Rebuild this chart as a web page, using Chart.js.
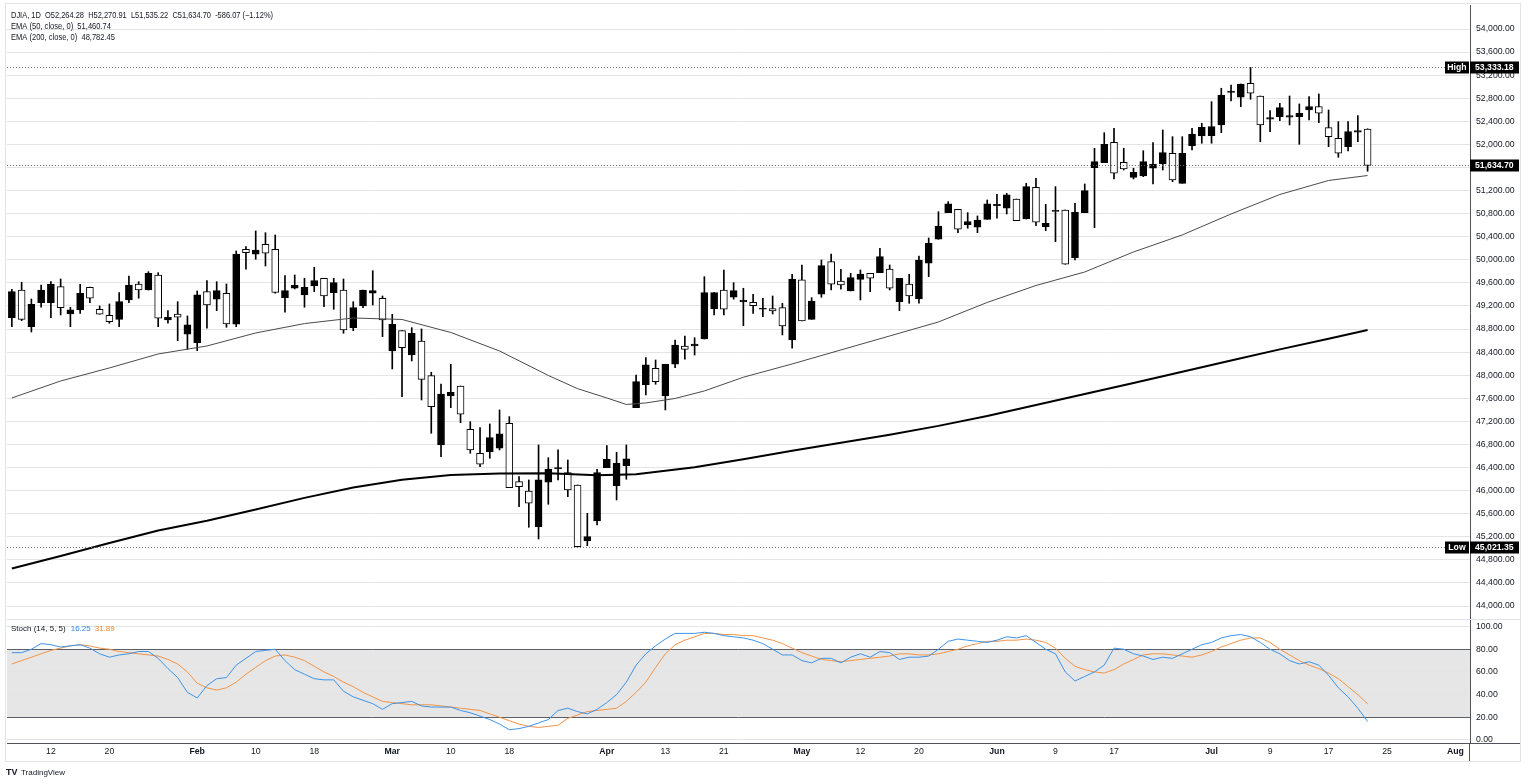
<!DOCTYPE html>
<html>
<head>
<meta charset="utf-8">
<title>DJIA 1D</title>
<script src="https://cdn.jsdelivr.net/npm/chart.js@4.4.1/dist/chart.umd.min.js"></script>
<style>
  html, body { margin: 0; padding: 0; background: #fff; }
  #wrap { position: relative; width: 1528px; height: 784px; }
</style>
</head>
<body>
<div id="wrap"><canvas id="djia" width="1528" height="784"></canvas></div>
<script>
// daily candles (oldest first)
const opens = [
  48997, 49477, 48841, 49257, 49257, 49534, 49061, 49131, 49524, 49143,
  49039, 48969, 49304, 49581, 49477, 49737, 48958, 49061, 48710, 48564,
  49448, 49317, 49420, 48883, 50183, 50096, 50269, 50183, 49344, 49507,
  49391, 49547, 49680, 49431, 49477, 48824, 49200, 49420, 49334, 48420,
  48774, 48351, 48593, 47992, 46791, 47640, 47813, 47063, 46647, 46675,
  46734, 47167, 46155, 45994, 45376, 46145, 46375, 46311, 46098, 45127,
  45474, 46398, 46086, 46433, 47437, 47831, 48120, 47640, 48190, 48507,
  48507, 48628, 49148, 49477, 49351, 49269, 49264, 49143, 49153, 49171,
  48611, 49651, 48969, 49403, 49968, 49633, 49460, 49662, 49766, 49777,
  49841, 49274, 49581, 49321, 49940, 50356, 50817, 50876, 50604, 50564,
  50702, 50938, 50893, 51054, 50708, 51257, 50574, 50840, 50864, 50037,
  50817, 51597, 51683, 52037, 51690, 51430, 51453, 51586, 51661, 51846,
  51326, 51978, 52146, 52151, 52337, 52903, 52817, 53059, 52839, 52436,
  52481, 52470, 52481, 52597, 52654, 52290, 52106, 51961, 52210, 52264.28
];
const highs = [
  49489, 49611, 49321, 49564, 49621, 49668, 49178, 49576, 49529, 49200,
  49235, 49431, 49720, 49621, 49794, 49777, 49119, 49274, 49027, 49460,
  49639, 49621, 49581, 50153, 50228, 50500, 50470, 50431, 49725, 49737,
  49680, 49871, 49680, 49680, 49668, 49274, 49477, 49811, 49373, 49056,
  48774, 48824, 48802, 48051, 47848, 48190, 47813, 47195, 47091, 47155,
  47398, 47282, 46242, 46185, 46791, 46571, 46705, 46531, 46098, 45607,
  46370, 46779, 46665, 46791, 48004, 48305, 48264, 48190, 48611, 48680,
  48651, 49708, 49431, 49824, 49604, 49507, 49403, 49334, 49373, 49247,
  49749, 49910, 49344, 49997, 50101, 49836, 49766, 49824, 49766, 50200,
  49910, 49680, 49749, 50066, 50378, 50834, 51008, 50876, 50817, 50760,
  51037, 51136, 51153, 51054, 51326, 51413, 50962, 51268, 50864, 50980,
  51314, 51933, 52203, 52280, 51933, 51586, 51891, 52030, 52250, 52134,
  52134, 52280, 52366, 52741, 52973, 53030, 53047, 53333.18, 52839, 52585,
  52713, 52839, 52701, 52827, 52874, 52597, 52394, 52394, 52498, 52270.91
];
const lows = [
  48841, 48945, 48749, 49178, 48997, 49044, 48841, 49073, 49257, 49056,
  48900, 48841, 49257, 49334, 49477, 48841, 48900, 48599, 48450, 48425,
  48814, 49119, 48831, 48841, 49836, 50009, 49893, 49420, 49091, 49495,
  49178, 49448, 49188, 49143, 48727, 48772, 49171, 49217, 48668, 48108,
  47629, 48247, 47571, 46994, 46588, 47437, 47177, 46647, 46415, 46560,
  46705, 46051, 45722, 45365, 45162, 45763, 46185, 45895, 45021.35, 45046,
  45405, 46398, 45838, 46197, 47437, 47657, 47843, 47398, 48131, 48276,
  48351, 48628, 49044, 49044, 49317, 48859, 49073, 49015, 49061, 48698,
  48467, 48940, 48969, 49351, 49477, 49489, 49460, 49304, 49448, 49777,
  49477, 49119, 49247, 49247, 49708, 50356, 50817, 50470, 50547, 50470,
  50702, 50720, 50794, 50678, 50708, 50592, 50505, 50314, 49923, 49997,
  50817, 50557, 51683, 51401, 51557, 51401, 51441, 51314, 51557, 51354,
  51326, 51904, 52020, 52020, 52203, 52753, 52654, 52782, 52047, 52221,
  52411, 52337, 52002, 52423, 52377, 51961, 51777, 51886, 52047, 51535.22
];
const closes = [
  49448, 48969, 49230, 49477, 49576, 49171, 49131, 49420, 49334, 49056,
  48928, 49274, 49564, 49477, 49766, 48987, 49004, 49004, 48871, 49391,
  49217, 49465, 48888, 50101, 50124, 50170, 50113, 49437, 49465, 49559,
  49524, 49639, 49373, 49604, 48784, 49171, 49477, 49465, 48958, 48883,
  48477, 48727, 47929, 47455, 47675, 47704, 47323, 46705, 46457, 46918,
  46982, 46051, 46069, 45781, 46185, 46375, 46398, 46011, 45028, 45202,
  46311, 46543, 46474, 46549, 47888, 48178, 47888, 48190, 48524, 48449,
  48541, 49431, 49431, 49143, 49465, 49304, 49205, 49165, 49113, 48853,
  49668, 48940, 49286, 49898, 49576, 49564, 49690, 49754, 49680, 50054,
  49507, 49680, 49373, 49997, 50287, 50586, 50968, 50529, 50661, 50690,
  50968, 50962, 51124, 50678, 51267, 50651, 50633, 50855, 49923, 50824,
  51198, 51701, 52002, 51500, 51574, 51517, 51701, 51656, 51857, 51384,
  51846, 52181, 52297, 52307, 52857, 52926, 53047, 52886, 52337, 52463,
  52637, 52498, 52540, 52654, 52540, 52134, 51846, 52221, 52238, 51634.70
];

// moving averages, sampled along the drawn lines (bar index -> value)
const ema50Idx = [0, 5, 10, 15, 20, 25, 30, 35, 40, 45, 50, 55, 58, 61, 63, 65, 68, 71, 75, 80, 85, 90, 95, 100, 105, 110, 115, 120, 125, 130, 135, 139];
const ema50 = [47606, 47900, 48126, 48368, 48507, 48732, 48895, 48992, 48966, 48741, 48420, 47996, 47767, 47606, 47493, 47519, 47597, 47727, 47965, 48195, 48438, 48680, 48923, 49261, 49555, 49789, 50136, 50431, 50794, 51132, 51375, 51460.74];
const ema200Idx = [0, 5, 10, 15, 20, 25, 30, 35, 40, 45, 50, 55, 60, 64, 70, 75, 80, 85, 90, 95, 100, 105, 110, 115, 120, 125, 130, 135, 139];
const ema200 = [44651, 44868, 45093, 45309, 45479, 45673, 45874, 46053, 46188, 46271, 46297, 46301, 46268, 46285, 46405, 46545, 46691, 46831, 46970, 47122, 47294, 47483, 47675, 47866, 48061, 48255, 48448, 48633, 48782.45];

// stochastic (14, 5, 5)
const stochK = [
  77, 77, 80, 85, 84, 82, 83, 84, 81, 76, 73, 75, 76, 78, 78, 72, 63, 55, 42, 37,
  48, 54, 55, 66, 72, 78, 79, 80, 70, 62, 58, 54, 53, 53, 43, 38, 35, 32, 27, 32,
  33, 34, 30, 29, 29, 29, 26, 24, 21, 18, 14, 9, 10, 12, 15, 18, 26, 28, 25, 23,
  27, 33, 40, 51, 66, 76, 83, 89, 94, 94, 94, 95, 94, 92, 91, 90, 88, 85, 80, 75,
  75, 70, 68, 72, 72, 68, 73, 76, 73, 78, 77, 71, 73, 73, 74, 80, 87, 89, 88, 87,
  86, 88, 91, 90, 92, 86, 80, 76, 60, 52, 56, 60, 66, 81, 80, 76, 74, 71, 73, 72,
  76, 80, 84, 86, 90, 92, 93, 91, 86, 80, 76, 70, 67, 69, 66, 57, 46, 38, 28, 16.25
];
const stochD = [
  67, 70, 73, 76, 79, 81, 83, 84, 83, 81, 80, 78, 77, 76, 75, 74, 71, 67, 60, 50,
  46, 44, 46, 51, 58, 64, 70, 74, 75, 73, 70, 65, 60, 56, 51, 47, 42, 38, 34, 33,
  32, 31, 31, 31, 30, 29, 28, 27, 26, 23, 20, 17, 14, 12, 11, 12, 13, 19, 22, 25,
  26, 27, 28, 34, 42, 51, 64, 76, 84, 88, 91, 94, 94, 93, 93, 92, 92, 90, 88, 85,
  81, 77, 74, 71, 70, 69, 70, 71, 72, 73, 74, 76, 76, 75, 75, 76, 78, 80, 83, 85,
  87, 87, 88, 88, 89, 88, 86, 81, 72, 65, 62, 60, 59, 62, 67, 71, 75, 76, 76, 75,
  74, 73, 75, 78, 82, 85, 88, 90, 90, 86, 80, 75, 70, 66, 63, 59, 54, 47, 40, 31.89
];

// axis ticks
const tickIdx = [4, 10, 19, 25, 31, 39, 45, 51, 61, 67, 73, 81, 87, 93, 101, 107, 113, 123, 129, 135, 141, 148];
const tickText = ['12', '20', 'Feb', '10', '18', 'Mar', '10', '18', 'Apr', '13', '21', 'May', '12', '20', 'Jun', '9', '17', 'Jul', '9', '17', '25', 'Aug'];
const monthNames = ['Feb', 'Mar', 'Apr', 'May', 'Jun', 'Jul', 'Aug'];
const priceTicks = [44000, 44400, 44800, 45200, 45600, 46000, 46400, 46800, 47200, 47600, 48000, 48400, 48800,
  49200, 49600, 50000, 50400, 50800, 51200, 51600, 52000, 52400, 52800, 53200, 53600, 54000];
const stochTicks = [0, 20, 40, 60, 80, 100];

const slotCount = 150;
const FONT = "'Liberation Sans', Arial, sans-serif";
const INK = '#131722';

const labels = Array.from({ length: slotCount }, (_, i) => String(i));
const tickMap = {};
tickIdx.forEach((k, j) => { tickMap[k] = tickText[j]; });

function padded(arr) {
  const out = new Array(slotCount).fill(null);
  arr.forEach((v, i) => { out[i] = v; });
  return out;
}
function sparse(idx, vals) {
  const out = new Array(slotCount).fill(null);
  idx.forEach((k, j) => { out[k] = vals[j]; });
  return out;
}
const fmt = v => v.toLocaleString('en-US', { minimumFractionDigits: 2, maximumFractionDigits: 2 });

const bodies = padded(opens.map((o, i) => [o, closes[i]]));
const wicks = padded(lows.map((l, i) => [l, highs[i]]));
const bodyFill = opens.map((o, i) => (closes[i] >= o ? '#000000' : '#ffffff'));

const hiVal = Math.max(...highs);
const loVal = Math.min(...lows);
const lastVal = closes[closes.length - 1];

// fixed right axis: no extra padding from tick labels
function fixedAxis(s) {
  s.width = 58;
  s.paddingTop = 0;
  s.paddingBottom = 0;
}

const paneDeco = {
  id: 'paneDeco',
  beforeDraw(chart) {
    const { ctx, chartArea: a, scales } = chart;
    ctx.save();
    ctx.fillStyle = '#ffffff';
    ctx.fillRect(0, 0, chart.width, chart.height);
    const s = scales.stoch;
    const y80 = s.getPixelForValue(80);
    const y20 = s.getPixelForValue(20);
    ctx.fillStyle = '#e6e6e6';
    ctx.fillRect(a.left, y80, a.right - a.left, y20 - y80);
    ctx.restore();
  },
  afterDraw(chart) {
    const { ctx, chartArea: a, scales } = chart;
    const py = scales.y;
    ctx.save();

    // pane separator + axis line extensions
    ctx.strokeStyle = '#e0e3eb';
    ctx.lineWidth = 1;
    ctx.beginPath();
    ctx.moveTo(a.left, Math.round(py.bottom) + 0.5);
    ctx.lineTo(1520, Math.round(py.bottom) + 0.5);
    ctx.stroke();
    ctx.strokeStyle = '#50535e';
    ctx.beginPath();
    ctx.moveTo(a.right, Math.round(a.bottom) + 0.5);
    ctx.lineTo(1520, Math.round(a.bottom) + 0.5);
    ctx.moveTo(Math.round(a.right) - 0.5, a.bottom);
    ctx.lineTo(Math.round(a.right) - 0.5, 761);
    ctx.stroke();

    // outer frame
    ctx.strokeStyle = '#e3e3e3';
    ctx.strokeRect(5.5, 3.5, 1515, 758);

    // dotted price lines with tags
    const marks = [
      { v: hiVal, tag: 'High' },
      { v: lastVal, tag: null },
      { v: loVal, tag: 'Low' }
    ];
    ctx.font = 'bold 8.7px ' + FONT;
    ctx.textBaseline = 'middle';
    marks.forEach(m => {
      const y = Math.round(py.getPixelForValue(m.v)) + 0.5;
      const lineEnd = m.tag ? 1445 : a.right;
      ctx.setLineDash([1, 2]);
      ctx.strokeStyle = '#6a6d78';
      ctx.beginPath();
      ctx.moveTo(a.left, y);
      ctx.lineTo(lineEnd, y);
      ctx.stroke();
      ctx.setLineDash([]);
      ctx.fillStyle = '#000000';
      ctx.fillRect(a.right, y - 6, 49, 12);
      ctx.fillStyle = '#ffffff';
      ctx.textAlign = 'left';
      ctx.fillText(fmt(m.v), a.right + 5, y + 0.5);
      if (m.tag) {
        ctx.fillStyle = '#000000';
        ctx.fillRect(1445, y - 6, 24, 12);
        ctx.fillStyle = '#ffffff';
        ctx.textAlign = 'center';
        ctx.fillText(m.tag, 1457, y + 0.5);
      }
    });

    // legend text, top left
    ctx.textAlign = 'left';
    ctx.textBaseline = 'middle';
    ctx.fillStyle = INK;
    ctx.font = '8.7px ' + FONT;
    ctx.fillText('DJIA, 1D  O52,264.28  H52,270.91  L51,535.22  C51,634.70  -586.07 (\u22121.12%)', 11, 15.5, 262);
    ctx.fillText('EMA (50, close, 0)  ' + fmt(ema50[ema50.length - 1]), 11, 26.5, 100);
    ctx.fillText('EMA (200, close, 0)  ' + fmt(ema200[ema200.length - 1]), 11, 37.5, 104);

    // stoch legend
    const sy = 629;
    let x = 11;
    const part1 = 'Stoch (14, 5, 5)';
    ctx.font = '8px ' + FONT;
    ctx.fillText(part1, x, sy);
    x += ctx.measureText(part1).width + 5;
    ctx.fillStyle = '#2d8be6';
    const kTxt = stochK[stochK.length - 1].toFixed(2);
    ctx.fillText(kTxt, x, sy);
    x += ctx.measureText(kTxt).width + 4;
    ctx.fillStyle = '#f0862a';
    ctx.fillText(stochD[stochD.length - 1].toFixed(2), x, sy);

    // footer mark
    ctx.fillStyle = INK;
    ctx.font = 'bold 9px ' + FONT;
    ctx.fillText('TV', 6, 772.5);
    ctx.font = '8px ' + FONT;
    ctx.fillText('TradingView', 21, 772.5);

    ctx.restore();
  }
};

new Chart(document.getElementById('djia'), {
  type: 'bar',
  data: {
    labels: labels,
    datasets: [
      {
        label: 'EMA 50',
        type: 'line',
        data: sparse(ema50Idx, ema50),
        yAxisID: 'y',
        borderColor: '#4b4b4b',
        borderWidth: 1,
        pointRadius: 0,
        spanGaps: true,
        order: 0
      },
      {
        label: 'EMA 200',
        type: 'line',
        data: sparse(ema200Idx, ema200),
        yAxisID: 'y',
        borderColor: '#000000',
        borderWidth: 2,
        pointRadius: 0,
        spanGaps: true,
        order: 0
      },
      {
        label: '%K',
        type: 'line',
        data: padded(stochK),
        yAxisID: 'stoch',
        borderColor: '#3d94e8',
        borderWidth: 1,
        pointRadius: 0,
        order: 0
      },
      {
        label: '%D',
        type: 'line',
        data: padded(stochD),
        yAxisID: 'stoch',
        borderColor: '#f39447',
        borderWidth: 1,
        pointRadius: 0,
        order: 0
      },
      {
        label: 'Body',
        data: bodies,
        yAxisID: 'y',
        backgroundColor: bodyFill,
        borderColor: '#000000',
        borderWidth: 1,
        borderSkipped: false,
        barThickness: 7,
        minBarLength: 1,
        grouped: false,
        order: 1
      },
      {
        label: 'Wick',
        data: wicks,
        yAxisID: 'y',
        backgroundColor: '#000000',
        borderWidth: 0,
        barThickness: 1,
        grouped: false,
        order: 2
      }
    ]
  },
  options: {
    responsive: false,
    animation: false,
    devicePixelRatio: 1,
    layout: { padding: { left: 7, top: 5, right: 0, bottom: 24 } },
    plugins: {
      legend: { display: false },
      tooltip: { enabled: false }
    },
    scales: {
      x: {
        type: 'category',
        offset: true,
        grid: { display: false, drawTicks: false },
        border: { display: true, color: '#50535e' },
        ticks: {
          autoSkip: false,
          maxRotation: 0,
          padding: 3,
          color: INK,
          font: ctx => ({
            family: FONT,
            size: 8.7,
            weight: monthNames.includes(tickMap[ctx.index]) ? 'bold' : 'normal'
          }),
          callback: (v, i) => (tickMap[i] !== undefined ? tickMap[i] : '')
        },
        afterFit: s => {
          s.height = 17;
          s.paddingLeft = 0;
          s.paddingRight = 0;
        }
      },
      y: {
        position: 'right',
        stack: 'panes',
        stackWeight: 614,
        min: 43775,
        max: 54416,
        afterBuildTicks: s => { s.ticks = priceTicks.map(v => ({ value: v })); },
        grid: { color: '#e4e4e4', drawTicks: false },
        border: { color: '#50535e' },
        ticks: {
          autoSkip: false,
          padding: 6,
          color: INK,
          font: { family: FONT, size: 8.7 },
          callback: v => fmt(v)
        },
        afterFit: fixedAxis
      },
      stoch: {
        position: 'right',
        stack: 'panes',
        stackWeight: 124,
        min: -2.7,
        max: 106.7,
        afterBuildTicks: s => { s.ticks = stochTicks.map(v => ({ value: v })); },
        grid: {
          drawTicks: false,
          color: ctx => (ctx.tick && (ctx.tick.value === 20 || ctx.tick.value === 80) ? '#5d606b' : '#e4e4e4')
        },
        border: { color: '#50535e' },
        ticks: {
          autoSkip: false,
          padding: 6,
          color: INK,
          font: { family: FONT, size: 8.7 },
          callback: v => fmt(v)
        },
        afterFit: fixedAxis
      }
    }
  },
  plugins: [paneDeco]
});
</script>
</body>
</html>
